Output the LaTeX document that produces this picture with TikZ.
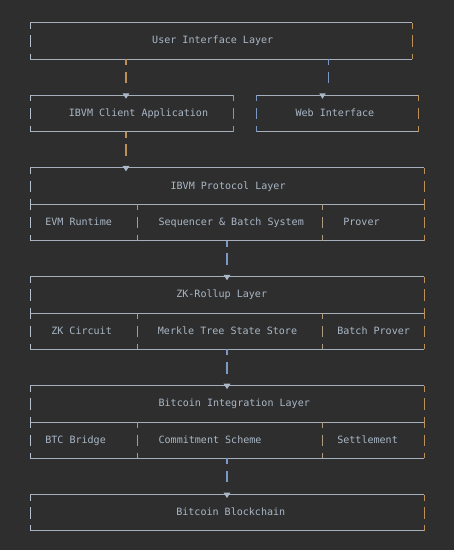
\documentclass[tikz,border=0pt]{standalone}
\usepackage{fontspec}
\setmonofont{DejaVu Sans Mono}
\usetikzlibrary{fit,calc,arrows.meta}
\definecolor{bg}{HTML}{2E2E2E}
\definecolor{txt}{HTML}{A9B7C6}
\definecolor{hl}{HTML}{A6B0BC}
\definecolor{vpale}{HTML}{B4C0CC}
\definecolor{vorange}{HTML}{BE9059}
\definecolor{vblue}{HTML}{7C98C4}
\definecolor{vtan}{HTML}{AE9C80}
\definecolor{tricol}{HTML}{A9B7C6}
\newcommand\layerbox[4]{%
  \draw[hline] (#1.north west) -- (#1.north east);
  \draw[hline] (#1.south west) -- (#1.south east);
  \draw[hline] (#2.south west) -- (#4.south east);
  \draw[vedge, vpale] (#1.north west) -- (#2.south west);
  \draw[vedge, vorange] (#1.north east) -- (#4.south east);
  \draw[vedge, vtan] (#3.north west) -- (#3.south west);
  \draw[vedge, vtan] (#3.north east) -- (#3.south east);
}
\newcommand\plainbox[3]{%
  \draw[hline] (#1.north west) -- (#1.north east);
  \draw[hline] (#1.south west) -- (#1.south east);
  \draw[vedge, #2] (#1.north west) -- (#1.south west);
  \draw[vedge, #3] (#1.north east) -- (#1.south east);
}
\begin{document}
\begin{tikzpicture}[x=1pt,y=-1pt,
  boxarea/.style={inner sep=0pt, outer sep=0pt, draw=none},
  hline/.style={draw=hl, line width=1pt},
  vedge/.style={line width=1.3pt, dash pattern=on 11.5pt off 6.65pt, dash phase=5.5pt},
  conn/.style={line width=1.3pt, dash pattern=on 6pt off 6.65pt on 11.5pt off 40pt},
  conntip/.style={-{Triangle[length=5.5pt,width=6.5pt,color=tricol,fill=tricol]}, shorten >=-3.5pt},
  lbl/.style={text=txt, font=\ttfamily\fontsize{10.05}{12}\selectfont, inner sep=0pt, anchor=mid west, yshift=-0.8pt}]
\fill[bg] (0,0) rectangle (454,550);
\useasboundingbox (0,0) rectangle (454,550);

% regions
\node[boxarea, fit={(30.3,22.7) (412.3,59.0)}] (ui) {};
\node[boxarea, fit={(30.3,95.3) (233.3,131.6)}] (client) {};
\node[boxarea, fit={(256.7,95.3) (418.3,131.6)}] (web) {};
\node[boxarea, fit={(30.3,167.9) (424.3,204.2)}] (proto) {};
\node[boxarea, fit={(30.3,204.2) (137.7,240.5)}] (evm) {};
\node[boxarea, fit={(137.7,204.2) (322.7,240.5)}] (seq) {};
\node[boxarea, fit={(322.7,204.2) (424.3,240.5)}] (prov) {};
\node[boxarea, fit={(30.3,276.8) (424.3,313.1)}] (zk) {};
\node[boxarea, fit={(30.3,313.1) (137.7,349.4)}] (zkc) {};
\node[boxarea, fit={(137.7,313.1) (322.7,349.4)}] (merk) {};
\node[boxarea, fit={(322.7,313.1) (424.3,349.4)}] (bprov) {};
\node[boxarea, fit={(30.3,385.7) (424.3,422.0)}] (btc) {};
\node[boxarea, fit={(30.3,422.0) (137.7,458.3)}] (bridge) {};
\node[boxarea, fit={(137.7,422.0) (322.7,458.3)}] (commit) {};
\node[boxarea, fit={(322.7,422.0) (424.3,458.3)}] (settle) {};
\node[boxarea, fit={(30.3,494.6) (424.3,530.9)}] (chain) {};

% borders
\plainbox{ui}{vpale}{vorange}
\plainbox{client}{vpale}{vblue}
\plainbox{web}{vblue}{vorange}
\layerbox{proto}{evm}{seq}{prov}
\layerbox{zk}{zkc}{merk}{bprov}
\layerbox{btc}{bridge}{commit}{settle}
\plainbox{chain}{vpale}{vorange}

% connectors
\coordinate (cxa) at (126,0);
\coordinate (cxb) at (328.3,0);
\coordinate (cxc) at (227,0);
\coordinate (cxt) at (322.5,0);
\draw[conn, vorange, conntip] (ui.south -| cxa) -- (client.north -| cxa);
\draw[conn, vblue] (ui.south -| cxb) -- (web.north -| cxb);
\fill[tricol] ($(web.north -| cxt)+(-3.25,-2)$) -- ($(web.north -| cxt)+(3.25,-2)$) -- ($(web.north -| cxt)+(0,3.5)$) -- cycle;
\draw[conn, vorange, conntip] (client.south -| cxa) -- (proto.north -| cxa);
\draw[conn, vblue, conntip] (seq.south -| cxc) -- (zk.north -| cxc);
\draw[conn, vblue, conntip] (merk.south -| cxc) -- (btc.north -| cxc);
\draw[conn, vblue, conntip] (commit.south -| cxc) -- (chain.north -| cxc);

% labels
\node[lbl] (t-ui) at (152,40.85) {User Interface Layer};
\node[lbl] (t-client) at (68.7,113.45) {IBVM Client Application};
\node[lbl] (t-web) at (295.4,113.45) {Web Interface};
\node[lbl] (t-proto) at (170.4,186.05) {IBVM Protocol Layer};
\node[lbl] (t-evm) at (45.1,222.35) {EVM Runtime};
\node[lbl] (t-seq) at (158.4,222.35) {Sequencer \& Batch System};
\node[lbl] (t-prov) at (343.1,222.35) {Prover};
\node[lbl] (t-zk) at (176.1,294.95) {ZK-Rollup Layer};
\node[lbl] (t-zkc) at (51.1,331.25) {ZK Circuit};
\node[lbl] (t-merk) at (157.7,331.25) {Merkle Tree State Store};
\node[lbl] (t-bprov) at (337.1,331.25) {Batch Prover};
\node[lbl] (t-btc) at (158.4,403.85) {Bitcoin Integration Layer};
\node[lbl] (t-bridge) at (45.1,440.15) {BTC Bridge};
\node[lbl] (t-commit) at (158.4,440.15) {Commitment Scheme};
\node[lbl] (t-settle) at (337.1,440.15) {Settlement};
\node[lbl] (t-chain) at (176.1,512.75) {Bitcoin Blockchain};
\end{tikzpicture}
\end{document}
